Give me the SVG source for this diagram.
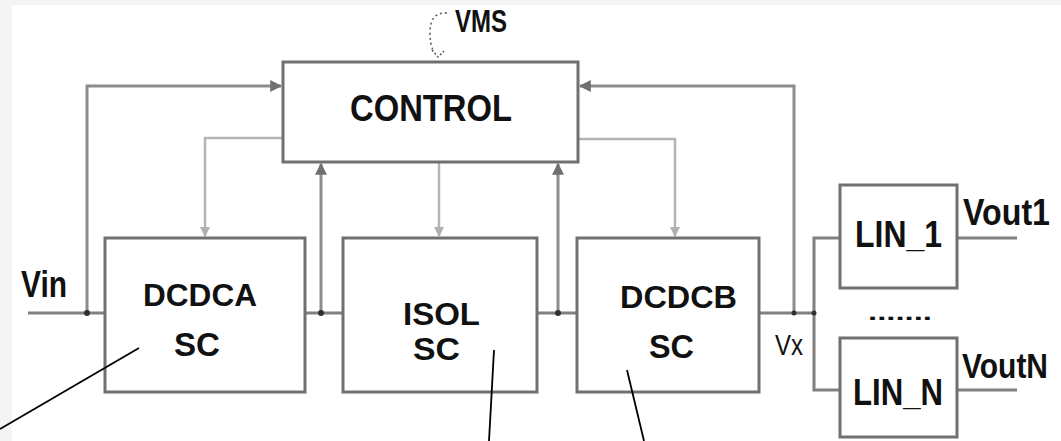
<svg xmlns="http://www.w3.org/2000/svg" width="1061" height="441" viewBox="0 0 1061 441">
<style>
.box{fill:#fff;stroke:#707070;stroke-width:3}
.wire{fill:none;stroke:#808080;stroke-width:3}
.fb{fill:none;stroke:#8c8c8c;stroke-width:3}
.lt{fill:none;stroke:#b4b4b4;stroke-width:2.5}
.ptr{fill:none;stroke:#000;stroke-width:1.8}
.dot{fill:#303030}
.lbl{font-family:"Liberation Sans",Arial,sans-serif;font-weight:bold;fill:#111}
.reg{font-family:"Liberation Sans",Arial,sans-serif;fill:#111}
</style>
<defs>
<marker id="ad" viewBox="0 0 10 10" refX="9" refY="5" markerWidth="4" markerHeight="4" orient="auto" markerUnits="strokeWidth">
<path d="M0 0 L10 5 L0 10 z" fill="#707070"/>
</marker>
<marker id="al" viewBox="0 0 10 10" refX="9" refY="5" markerWidth="4" markerHeight="4" orient="auto" markerUnits="strokeWidth">
<path d="M0 0 L10 5 L0 10 z" fill="#b0b0b0"/>
</marker>
</defs>
<rect x="0" y="0" width="1061" height="441" fill="#fff"/>
<rect x="0" y="0" width="1061" height="5" fill="#f4f4f4"/>
<rect x="0" y="0" width="12" height="441" fill="#f4f4f4"/>

<g id="connectors">
<path class="fb" d="M87 313 V86 H281" marker-end="url(#ad)"/>
<path class="fb" d="M794 313 V86 H580" marker-end="url(#ad)"/>
<path class="fb" d="M321 313 V164" marker-end="url(#ad)"/>
<path class="fb" d="M558 313 V164" marker-end="url(#ad)"/>
<path class="lt" d="M283 138 H205 V236" marker-end="url(#al)"/>
<path class="lt" d="M439 162 V236" marker-end="url(#al)"/>
<path class="lt" d="M578 139 H675 V236" marker-end="url(#al)"/>
<path class="wire" d="M28 313 H105"/>
<path class="wire" d="M305 313 H343"/>
<path class="wire" d="M537 313 H577"/>
<path class="wire" d="M759 313 H814"/>
<path class="wire" d="M840 238 H814 V390 H840"/>
<path class="wire" d="M957 238 H1017"/>
<path class="wire" d="M957 390 H1017"/>
<circle class="dot" cx="87" cy="313" r="3"/>
<circle class="dot" cx="321" cy="313" r="3"/>
<circle class="dot" cx="558" cy="313" r="3"/>
<circle class="dot" cx="794" cy="313" r="2.5"/>
<circle class="dot" cx="814" cy="313" r="2.5"/>
<path d="M447 13 Q430 12 430 32 Q430 44 433 50" fill="none" stroke="#555" stroke-width="1.5" stroke-dasharray="2 3"/>
<path d="M432 50 L438 57 L444 51" fill="none" stroke="#555" stroke-width="1.5" stroke-dasharray="2 2"/>
</g>

<g id="control">
<rect class="box" x="283" y="62" width="295" height="100"/>
<text class="lbl" x="350" y="121" font-size="37" textLength="162" lengthAdjust="spacingAndGlyphs">CONTROL</text>
</g>
<g id="vms">
<text class="lbl" x="455" y="32" font-size="31" textLength="52" lengthAdjust="spacingAndGlyphs">VMS</text>
</g>
<g id="dcdca">
<rect class="box" x="105" y="238" width="200" height="154"/>
<text class="lbl" x="143" y="306" font-size="32" textLength="114" lengthAdjust="spacingAndGlyphs">DCDCA</text>
<text class="lbl" x="174" y="356" font-size="33" textLength="46" lengthAdjust="spacingAndGlyphs">SC</text>
</g>
<g id="isol">
<rect class="box" x="343" y="238" width="194" height="154"/>
<text class="lbl" x="403" y="325" font-size="31" textLength="77" lengthAdjust="spacingAndGlyphs">ISOL</text>
<text class="lbl" x="413" y="360" font-size="31" textLength="47" lengthAdjust="spacingAndGlyphs">SC</text>
</g>
<g id="dcdcb">
<rect class="box" x="577" y="238" width="182" height="154"/>
<text class="lbl" x="620" y="308" font-size="32" textLength="117" lengthAdjust="spacingAndGlyphs">DCDCB</text>
<text class="lbl" x="649" y="358" font-size="33" textLength="45" lengthAdjust="spacingAndGlyphs">SC</text>
</g>
<g id="lin1">
<rect class="box" x="840" y="185" width="117" height="103"/>
<text class="lbl" x="855" y="247" font-size="36" textLength="87" lengthAdjust="spacingAndGlyphs">LIN_1</text>
</g>
<g id="linN">
<rect class="box" x="840" y="338" width="117" height="99"/>
<text class="lbl" x="853" y="405" font-size="37" textLength="90" lengthAdjust="spacingAndGlyphs">LIN_N</text>
</g>
<g id="labels">
<text class="lbl" x="21" y="297" font-size="36" textLength="46" lengthAdjust="spacingAndGlyphs">Vin</text>
<text class="reg" x="775" y="355" font-size="29" textLength="28" lengthAdjust="spacingAndGlyphs">Vx</text>
<text class="lbl" x="963" y="225" font-size="36" textLength="87" lengthAdjust="spacingAndGlyphs">Vout1</text>
<text class="lbl" x="962" y="378" font-size="35" textLength="86" lengthAdjust="spacingAndGlyphs">VoutN</text>
<text class="lbl" x="868" y="320" font-size="22" textLength="64" lengthAdjust="spacingAndGlyphs">.......</text>
</g>
<g id="pointers">
<path class="ptr" d="M0 429 L139 348"/>
<path class="ptr" d="M494 350 L489 441"/>
<path class="ptr" d="M627 370 L644 441"/>
</g>
</svg>
